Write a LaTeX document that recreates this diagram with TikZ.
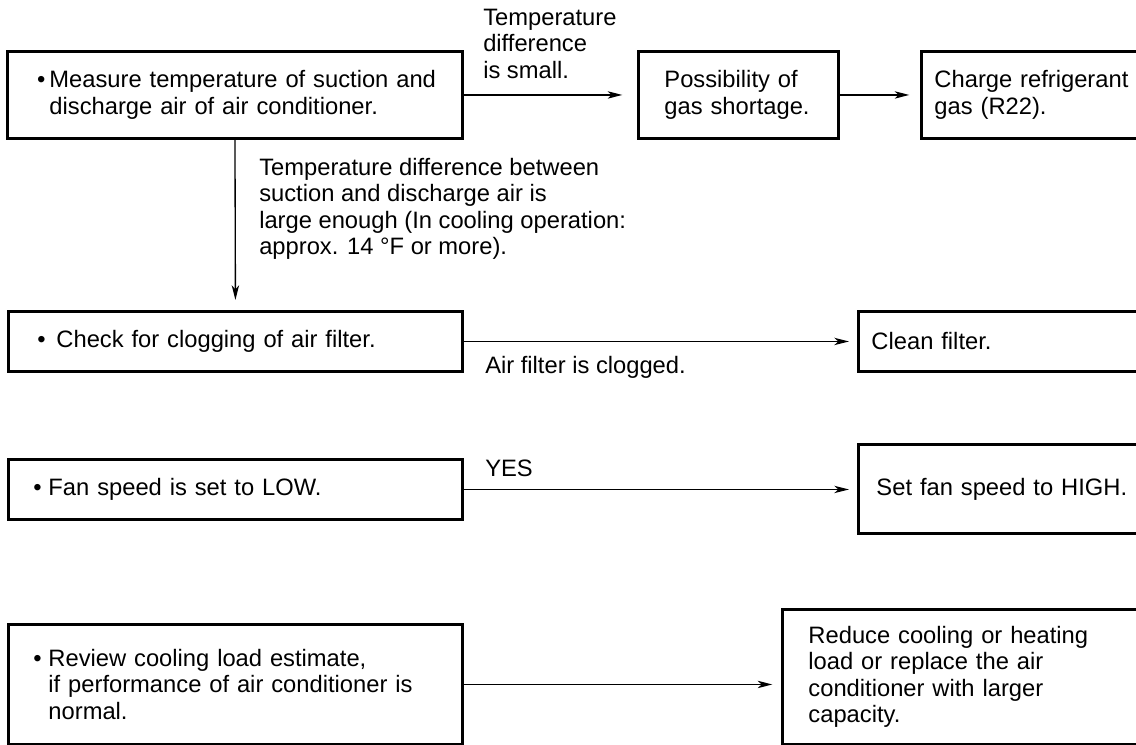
\documentclass[tikz,border=0pt]{standalone}
\usepackage{fontspec}
\setmainfont{Liberation Sans}
\usetikzlibrary{arrows.meta}

\newcommand{\bul}[1]{\llap{\textbullet\hspace{#1}}}

\begin{document}
\begin{tikzpicture}[
  x=0.75pt, y=-0.75pt,
  font=\fontsize{17.8}{19.8}\selectfont,
  box/.style={draw, line width=2.2pt, anchor=north west, align=left,
              inner sep=0pt},
  lpad/.style={execute at begin node={\leftskip=#1}},
  note/.style={anchor=north west, align=left, inner sep=0pt},
  arr/.style={-{Stealth[length=11pt, width=5.5pt, inset=3pt]}, line width=1pt}
]
\clip (0,0) rectangle (1136,745);
% top row
\node[box, text width=341.25pt, minimum height=65.25pt, lpad=31.5pt] (meas) at (6,50)
  {\bul{3pt}Measure temperature of suction and\\discharge air of air conditioner.};
\node[box, text width=150pt, minimum height=65.25pt, lpad=19.5pt] (short) at (637,50)
  {Possibility of\\gas shortage.};
\node[box, text width=168.75pt, minimum height=65.25pt, lpad=9.75pt] (charge) at (920,50)
  {Charge refrigerant\\gas (R22).};
% filter
\node[box, text width=340.5pt, minimum height=45pt, lpad=36pt] (filt) at (7,310)
  {\bul{8pt}Check for clogging of air filter.};
\node[box, text width=217.5pt, minimum height=45pt, lpad=9.75pt] (clean) at (857,310)
  {Clean filter.};
% fan
\node[box, text width=340.5pt, minimum height=45pt, lpad=30pt] (fan) at (7,458)
  {\bul{5pt}Fan speed is set to LOW.};
\node[box, text width=217.5pt, minimum height=66.75pt, lpad=13.5pt] (high) at (857,443)
  {Set fan speed to HIGH.};
% load
\node[box, text width=340.5pt, minimum height=90pt, lpad=30pt] (load) at (7,623)
  {\bul{5pt}Review cooling load estimate,\\if performance of air conditioner is\\normal.};
\node[box, text width=277.5pt, minimum height=101.25pt, lpad=19.5pt] (reduce) at (781,608)
  {Reduce cooling or heating\\load or replace the air\\conditioner with larger\\capacity.};

% labels
\node[note] (small) at (483,9) {Temperature\\difference\\is small.};
\node[note] (large) at (259,158)
  {Temperature difference between\\suction and discharge air is\\large enough (In cooling operation:\\approx. 14 °F or more).};
\node[note] (clog) at (485,356) {Air filter is clogged.};
\node[note] (yes) at (485,460) {YES};

\draw[arr, shorten >=11pt] (meas.east) -- (short.west);
\draw[arr, shorten >=8pt] (short.east) -- (charge.west);
\draw[arr, shorten >=7.5pt] (meas.south) -- (filt.north);
\draw[arr, shorten >=6pt] (filt.east) -- (clean.west);
\draw[arr, shorten >=6pt] (fan.east) -- (fan.east -| high.west);
\draw[arr, shorten >=6.5pt] (load.east) -- (load.east -| reduce.west);
\end{tikzpicture}
\end{document}
